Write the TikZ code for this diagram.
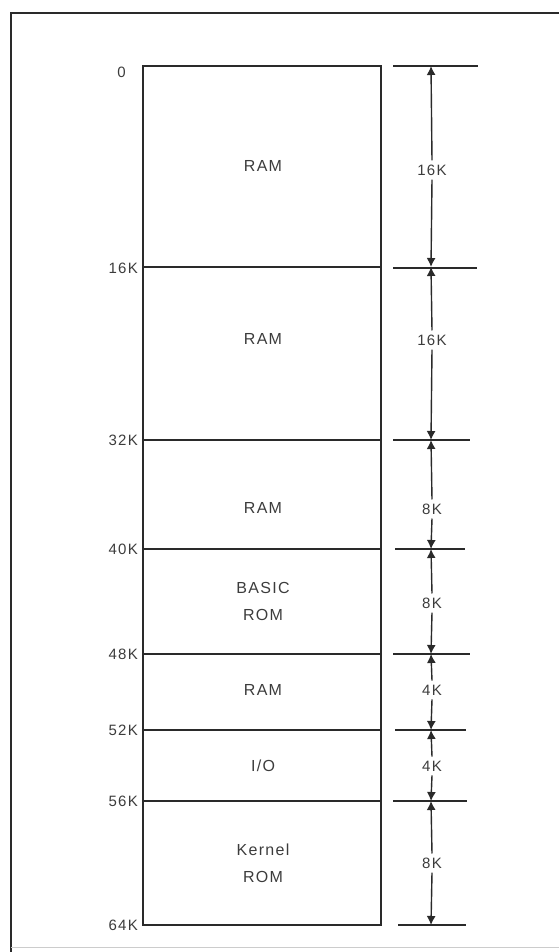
\documentclass[tikz,border=0pt]{standalone}
\usepackage{fontspec}
\setmainfont{Liberation Sans}[LetterSpace=8]
\usetikzlibrary{arrows.meta}
\definecolor{ink}{HTML}{2A2A2A}
\definecolor{txt}{HTML}{3C3C3C}
\begin{document}
\begin{tikzpicture}[x=1pt,y=-1pt,
  line/.style={draw=ink,line width=1.7pt},
  tick/.style={draw=ink,line width=1.7pt},
  dimline/.style={draw=ink,line width=1.4pt,-{Latex[length=9pt,width=9pt]}},
  sect/.style={font=\fontsize{16}{27}\selectfont,text=txt,align=center},
  addr/.style={font=\fontsize{15}{17}\selectfont,text=txt,anchor=east,inner sep=1pt},
  size/.style={font=\fontsize{15}{17}\selectfont,text=txt,inner sep=4pt}]
\useasboundingbox (0,0) rectangle (559,952);
% frame
\draw[ink,line width=1.8pt] (11,952) -- (11,13) -- (559,13);
\draw[gray!40,line width=0.8pt] (11,947) -- (559,947);
% boundary coordinates
\foreach \n/\y in {0/66,1/267,2/440,3/549,4/654,5/730,6/801,7/925}{
  \coordinate (L\n) at (143,\y);
  \coordinate (R\n) at (381,\y);
  \coordinate (M\n) at (431,\y);
}
% memory box
\draw[line] (L0) rectangle (R7);
\foreach \n in {1,...,6}{\draw[line] (L\n) -- (R\n);}
% right ticks
\coordinate (T0a) at (393,66);  \coordinate (T0b) at (478,66);
\coordinate (T1a) at (393,268); \coordinate (T1b) at (477,268);
\coordinate (T2a) at (393,440); \coordinate (T2b) at (470,440);
\coordinate (T3a) at (395,549); \coordinate (T3b) at (465,549);
\coordinate (T4a) at (393,654); \coordinate (T4b) at (470,654);
\coordinate (T5a) at (395,730); \coordinate (T5b) at (466,730);
\coordinate (T6a) at (393,801); \coordinate (T6b) at (467,801);
\coordinate (T7a) at (398,925); \coordinate (T7b) at (466,925);
\foreach \n in {0,...,7}{\draw[tick] (T\n a) -- (T\n b);}
% address labels
\node[addr] (a0) at (127,72) {0};
\node[addr] (a1) at (139,268) {16K};
\node[addr] (a2) at (139,440) {32K};
\node[addr] (a3) at (139,549) {40K};
\node[addr] (a4) at (139,654) {48K};
\node[addr] (a5) at (139,730) {52K};
\node[addr] (a6) at (139,801) {56K};
\node[addr] (a7) at (139,925) {64K};
% section labels
\node[sect] (s1) at (263,166) {RAM};
\node[sect] (s2) at (263,339) {RAM};
\node[sect] (s3) at (263,508) {RAM};
\node[sect] (s4) at (263,601) {BASIC\\ROM};
\node[sect] (s5) at (263,690) {RAM};
\node[sect] (s6) at (263,766) {I/O};
\node[sect] (s7) at (263,863) {Kernel\\ROM};
% size labels and dimension arrows
\node[size] (k1) at (432,170) {16K};
\node[size] (k2) at (432,340) {16K};
\node[size] (k3) at (432,509) {8K};
\node[size] (k4) at (432,603) {8K};
\node[size] (k5) at (432,690) {4K};
\node[size] (k6) at (432,766) {4K};
\node[size] (k7) at (432,863) {8K};
\foreach \k/\a/\b in {1/0/1,2/1/2,3/2/3,4/3/4,5/4/5,6/5/6,7/6/7}{
  \draw[dimline] (k\k.north) -- (M\a);
  \draw[dimline] (k\k.south) -- (M\b);
}
\end{tikzpicture}
\end{document}
